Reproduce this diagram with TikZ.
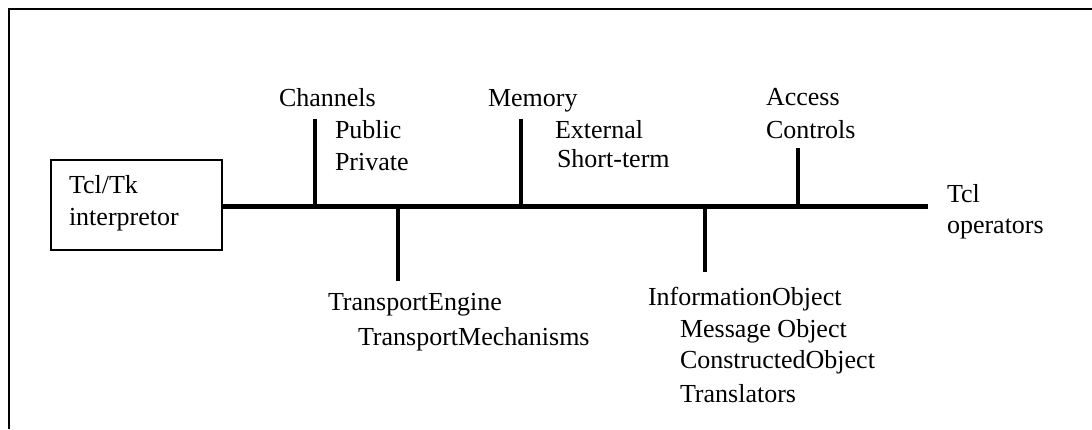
\documentclass[tikz,border=0pt]{standalone}
\usepackage{fontspec}
\setmainfont{Liberation Serif}
\begin{document}
\begin{tikzpicture}[x=0.5pt,y=-0.5pt,
  lbl/.style={anchor=base west,inner sep=0pt,outer sep=0pt,font=\fontsize{13}{16}\selectfont},
  boxst/.style={draw,line width=1.2pt,minimum width=85.5pt,minimum height=45pt,inner sep=0pt},
  mainline/.style={line width=2.6pt},
  tick/.style={line width=1.6pt}]
\useasboundingbox (0,0) rectangle (1092,429);
% outer frame (only top and left sides visible)
\draw[line width=1.3pt] (9,429) -- (9,9) -- (1092,9);
% interpreter box
\node[boxst] (box) at (136.5,205) {};
\node[lbl] (tcltk) at (69,193) {Tcl/Tk};
\node[lbl] (interp) at (69,225) {interpretor};
% main line
\coordinate (lineR) at (928,206.5);
\draw[mainline] (box.east |- lineR) -- (lineR);
% ticks up
\coordinate (chB) at (315,206.5); \coordinate (chT) at (315,119);
\coordinate (meB) at (521,206.5); \coordinate (meT) at (521,119);
\coordinate (acB) at (798,206.5); \coordinate (acT) at (798,148);
\draw[tick] (chB) -- (chT);
\draw[tick] (meB) -- (meT);
\draw[tick] (acB) -- (acT);
% ticks down
\coordinate (trB) at (398,206.5); \coordinate (trT) at (398,281);
\coordinate (inB) at (705,206.5); \coordinate (inT) at (705,272);
\draw[tick] (trB) -- (trT);
\draw[tick] (inB) -- (inT);
% labels
\node[lbl] (channels) at (279,106) {Channels};
\node[lbl] (public) at (335,138) {Public};
\node[lbl] (private) at (335,170) {Private};
\node[lbl] (memory) at (488,106) {Memory};
\node[lbl] (external) at (555,138) {External};
\node[lbl] (shortterm) at (557,167) {Short-term};
\node[lbl] (access) at (766,105) {Access};
\node[lbl] (controls) at (766,138) {Controls};
\node[lbl] (tcl) at (947,202) {Tcl};
\node[lbl] (operators) at (947,233) {operators};
\node[lbl] (tengine) at (328,310) {TransportEngine};
\node[lbl] (tmech) at (358,345) {TransportMechanisms};
\node[lbl] (infoobj) at (648,305) {InformationObject};
\node[lbl] (msgobj) at (680,337) {Message Object};
\node[lbl] (consobj) at (680,368) {ConstructedObject};
\node[lbl] (transl) at (680,402) {Translators};
\end{tikzpicture}
\end{document}
